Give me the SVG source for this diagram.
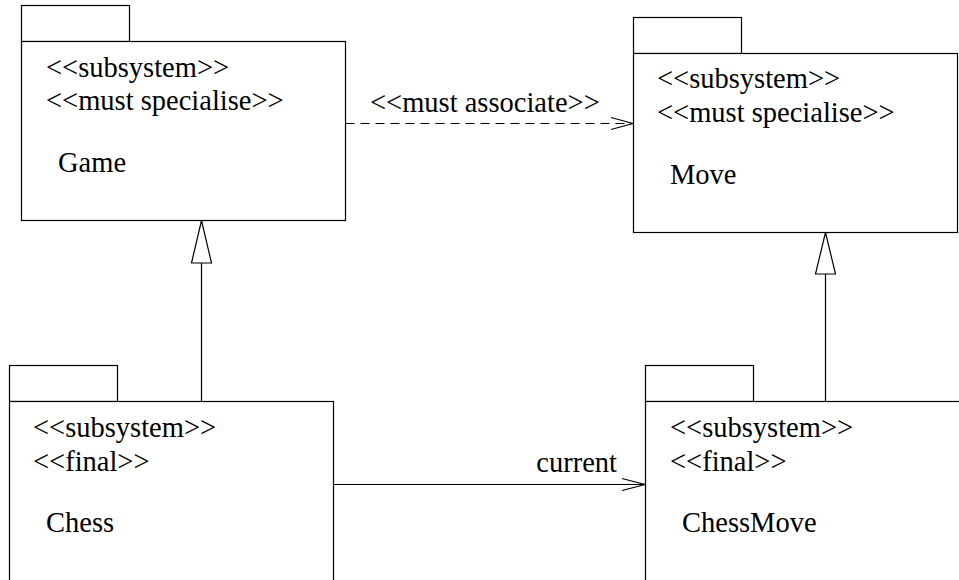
<svg xmlns="http://www.w3.org/2000/svg" width="959" height="580" viewBox="0 0 959 580">
<style>
  .box { fill: #fff; stroke: #000; stroke-width: 1.2; }
  .t { font-family: "Liberation Serif", "Times New Roman", serif; font-size: 28.5px; fill: #000; }
  .ln { fill: none; stroke: #000; stroke-width: 1.2; }
  .dash { stroke-dasharray: 9 6; }
</style>
<rect width="959" height="580" fill="#fff"/>
<g id="connectors">
  <line class="ln dash" x1="345.5" y1="123.5" x2="633" y2="123.5"/>
  <polyline class="ln" points="611,117.5 633,123.5 611,129.5"/>
  <text class="t" x="370" y="112">&lt;&lt;must associate&gt;&gt;</text>
  <line class="ln" x1="333.5" y1="484.5" x2="645" y2="484.5"/>
  <polyline class="ln" points="622,478.5 645,484.5 622,490.5"/>
  <text class="t" x="617" y="472" text-anchor="end">current</text>
  <line class="ln" x1="201.5" y1="401" x2="201.5" y2="263"/>
  <polygon class="ln" points="201.5,220.5 191.5,263 211.5,263" fill="#fff"/>
  <line class="ln" x1="825.5" y1="401" x2="825.5" y2="274"/>
  <polygon class="ln" points="825.5,232.5 815.5,274 835.5,274" fill="#fff"/>
</g>
<g id="game">
  <rect class="box" x="21.5" y="5.5" width="108" height="36"/>
  <rect class="box" x="21.5" y="41.5" width="324" height="179"/>
  <text class="t" x="46" y="77">&lt;&lt;subsystem&gt;&gt;</text>
  <text class="t" x="46" y="110">&lt;&lt;must specialise&gt;&gt;</text>
  <text class="t" x="58" y="172">Game</text>
</g>
<g id="move">
  <rect class="box" x="633.5" y="17.5" width="108" height="36"/>
  <rect class="box" x="633.5" y="53.5" width="324" height="179"/>
  <text class="t" x="657" y="88">&lt;&lt;subsystem&gt;&gt;</text>
  <text class="t" x="657" y="122">&lt;&lt;must specialise&gt;&gt;</text>
  <text class="t" x="670" y="184">Move</text>
</g>
<g id="chess">
  <rect class="box" x="9.5" y="365.5" width="108" height="36"/>
  <rect class="box" x="9.5" y="401.5" width="324" height="190"/>
  <text class="t" x="33" y="437">&lt;&lt;subsystem&gt;&gt;</text>
  <text class="t" x="33" y="471">&lt;&lt;final&gt;&gt;</text>
  <text class="t" x="46" y="532">Chess</text>
</g>
<g id="chessmove">
  <rect class="box" x="645.5" y="365.5" width="108" height="36"/>
  <rect class="box" x="645.5" y="401.5" width="324" height="190"/>
  <text class="t" x="670" y="437">&lt;&lt;subsystem&gt;&gt;</text>
  <text class="t" x="670" y="471">&lt;&lt;final&gt;&gt;</text>
  <text class="t" x="682" y="532">ChessMove</text>
</g>
</svg>
